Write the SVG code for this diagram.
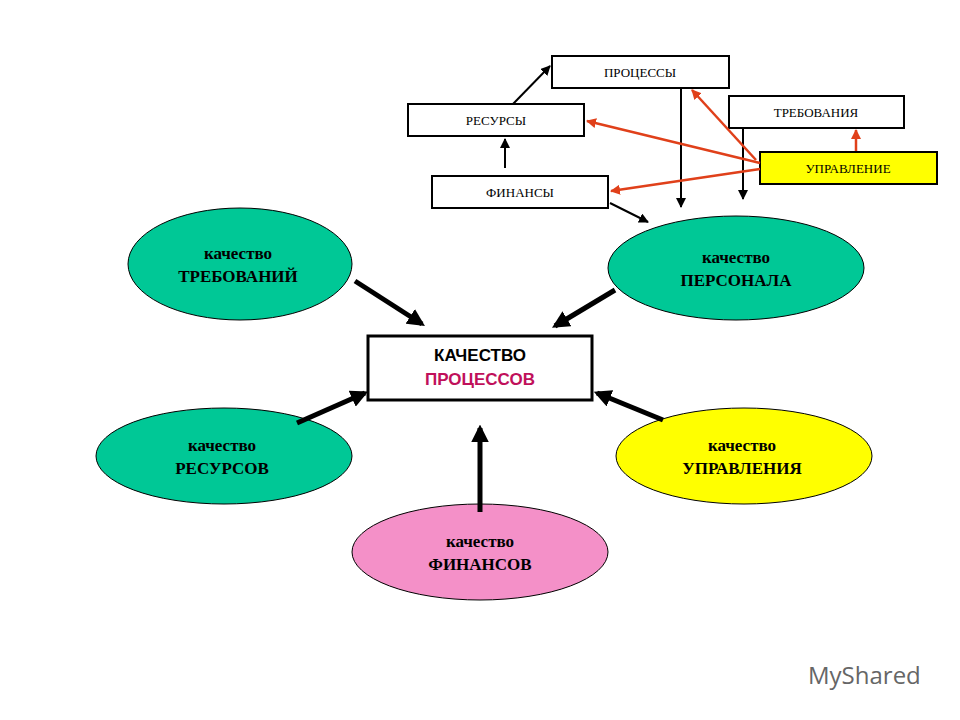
<svg xmlns="http://www.w3.org/2000/svg" width="960" height="720" viewBox="0 0 960 720">
<style>
.b{fill:#fff;stroke:#000;stroke-width:2}
.s{font-family:"Liberation Serif",serif;font-size:13px;text-anchor:middle}
.e{stroke:#000;stroke-width:1}
.t{font-family:"Liberation Serif",serif;font-size:17px;font-weight:bold;text-anchor:middle}
.k{stroke:#000;stroke-width:2;fill:none}
.r{stroke:#e0401a;stroke-width:2.5;fill:none}
.th{stroke:#000;stroke-width:5;fill:none}
</style>
<defs>
<marker id="ak" viewBox="0 0 10 10" refX="9" refY="5" markerWidth="5" markerHeight="5" orient="auto"><path d="M0,0L10,5L0,10z" fill="#000"/></marker>
<marker id="ar" viewBox="0 0 10 10" refX="9" refY="5" markerWidth="4" markerHeight="4" orient="auto"><path d="M0,0L10,5L0,10z" fill="#e0401a"/></marker>
<marker id="at" viewBox="0 0 10 10" refX="8" refY="5" markerWidth="3.5" markerHeight="3.5" orient="auto"><path d="M0,0L10,5L0,10z" fill="#000"/></marker>
</defs>
<rect width="960" height="720" fill="#fff"/>
<g id="processes"><rect class="b" x="552" y="56" width="177" height="32"/><text class="s" x="640" y="77">ПРОЦЕССЫ</text></g>
<g id="resources"><rect class="b" x="408" y="104" width="176" height="32"/><text class="s" x="496" y="125">РЕСУРСЫ</text></g>
<g id="requirements"><rect class="b" x="729" y="96" width="175" height="32"/><text class="s" x="816" y="117">ТРЕБОВАНИЯ</text></g>
<g id="management"><rect x="760" y="152" width="177" height="32" fill="#ffff00" stroke="#000" stroke-width="2"/><text class="s" x="848" y="173">УПРАВЛЕНИЕ</text></g>
<g id="finance"><rect class="b" x="432" y="176" width="176" height="32"/><text class="s" x="520" y="197">ФИНАНСЫ</text></g>
<g id="q-req"><ellipse class="e" cx="240" cy="264" rx="112" ry="56" fill="#00c896"/><text class="t" x="238" y="259">качество</text><text class="t" x="238" y="282">ТРЕБОВАНИЙ</text></g>
<g id="q-staff"><ellipse class="e" cx="736" cy="268" rx="128" ry="52" fill="#00c896"/><text class="t" x="736" y="263">качество</text><text class="t" x="736" y="286">ПЕРСОНАЛА</text></g>
<g id="q-res"><ellipse class="e" cx="224" cy="456" rx="128" ry="48" fill="#00c896"/><text class="t" x="222" y="451">качество</text><text class="t" x="222" y="474">РЕСУРСОВ</text></g>
<g id="q-man"><ellipse class="e" cx="744" cy="456" rx="128" ry="48" fill="#ffff00"/><text class="t" x="742" y="451">качество</text><text class="t" x="742" y="474">УПРАВЛЕНИЯ</text></g>
<g id="q-fin"><ellipse class="e" cx="480" cy="552" rx="128" ry="48" fill="#f490c8"/><text class="t" x="480" y="547">качество</text><text class="t" x="480" y="570">ФИНАНСОВ</text></g>
<g id="center"><rect x="368" y="336" width="224" height="64" fill="#fff" stroke="#000" stroke-width="3"/>
<text x="480" y="361" font-family="Liberation Sans,sans-serif" font-size="17" font-weight="bold" text-anchor="middle">КАЧЕСТВО</text>
<text x="480" y="385" font-family="Liberation Sans,sans-serif" font-size="17" font-weight="bold" text-anchor="middle" fill="#c0105a">ПРОЦЕССОВ</text></g>
<g id="connectors">
<path class="k" d="M513,104L550,66" marker-end="url(#ak)"/>
<path class="k" d="M505,168L505,139" marker-end="url(#ak)"/>
<path class="k" d="M681,88L681,207" marker-end="url(#ak)"/>
<path class="k" d="M743,128L743,199" marker-end="url(#ak)"/>
<path class="k" d="M610,203L648,222" marker-end="url(#ak)"/>
<path class="r" d="M760,163L587,121" marker-end="url(#ar)"/>
<path class="r" d="M756,160L692,90" marker-end="url(#ar)"/>
<path class="r" d="M760,169L611,191" marker-end="url(#ar)"/>
<path class="r" d="M856,151L856,130" marker-end="url(#ar)"/>
<path class="th" d="M355,281L422,324" marker-end="url(#at)"/>
<path class="th" d="M615,290L555,326" marker-end="url(#at)"/>
<path class="th" d="M297,423L365,393" marker-end="url(#at)"/>
<path class="th" d="M663,420L597,393" marker-end="url(#at)"/>
<path class="th" d="M480,512L480,428" marker-end="url(#at)"/>
</g>
<text x="808" y="684" font-family="Open Sans,sans-serif" font-size="24" fill="#666">MyShared</text>
</svg>
